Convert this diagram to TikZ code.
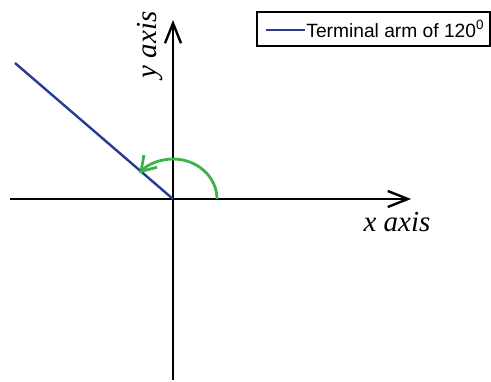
\documentclass[tikz,border=0pt]{standalone}
\usepackage{fontspec}
\setmainfont{Liberation Serif}
\newfontfamily\legendfont{Liberation Sans}
\usepackage{xcolor}
\usetikzlibrary{arrows.meta}
\definecolor{armblue}{RGB}{38,58,150}
\definecolor{arcgreen}{RGB}{62,178,74}

\begin{document}
\begin{tikzpicture}[x=0.5pt,y=0.5pt,>={Straight Barb[length=10pt,width=8pt]}]
    \useasboundingbox (0,0) rectangle (491,381);
    \coordinate (O) at (173,182);
    \coordinate (arm) at (15,318);
    \draw[->,line width=1.2pt] (10,182) -- (411,182);
    \draw[->,line width=1.2pt] (173,1) -- (173,361);
    \draw[line width=1.2pt,armblue] (O) -- (arm);
    \draw[line width=1.4pt,arcgreen,->,>={Straight Barb[length=7pt,width=9pt]}] (217,182)
        arc[start angle=0,end angle=140,x radius=44,y radius=40];
    \node[font=\itshape\fontsize{14.5}{16}\selectfont] (xlab) at (397,159) {x axis};
    \node[font=\itshape\fontsize{14.5}{16}\selectfont,rotate=90] (ylab) at (150,336) {y axis};
    % legend
    \draw[line width=0.8pt] (257,335) rectangle (490,369);
    \draw[line width=1.2pt,armblue] (266,351) -- (305,351);
    \node[anchor=west,inner sep=0pt,font=\legendfont\fontsize{9.6}{11}\selectfont] (leg) at (306,352)
        {Terminal arm of 120\textsuperscript{0}};
  \end{tikzpicture}
\end{document}
